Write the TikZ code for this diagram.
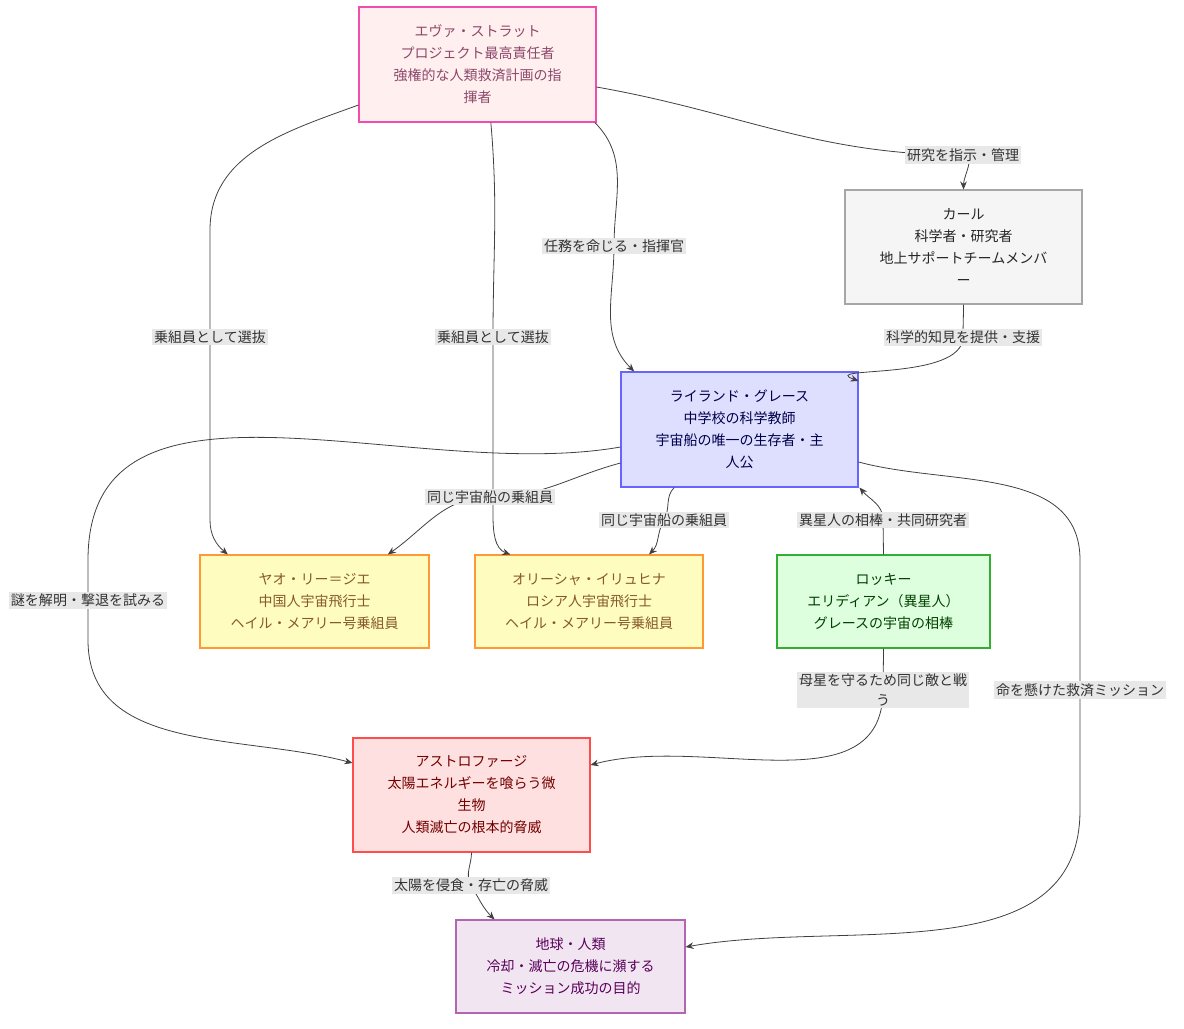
\documentclass[tikz,border=0pt]{standalone}
\usepackage{fontspec}
\setmainfont{Noto Sans CJK JP}
\usetikzlibrary{arrows.meta}
\definecolor{lblbg}{HTML}{E8E8E8}
\begin{document}
\begin{tikzpicture}[x=0.75pt,y=-0.75pt,
  box/.style={draw,line width=0.8pt,align=center,font=\fontsize{10.5}{16.5}\selectfont,inner sep=0pt},
  lbl/.style={fill=lblbg,font=\fontsize{10.5}{15}\selectfont,inner sep=1.5pt,align=center,text=black!80},
  e/.style={draw=black!75,line width=0.6pt,-{Stealth[length=6pt,width=5pt]}}]
\useasboundingbox (0,0) rectangle (1184,1028);
\node[box,fill=pink!25,draw=magenta!70,text=magenta!50!black,minimum width=237*0.75pt,minimum height=115*0.75pt] (eva) at (477.5,64.5) {エヴァ・ストラット\\プロジェクト最高責任者\\強権的な人類救済計画の指\\揮者};
\node[box,fill=gray!8,draw=gray!70,text=black!85,minimum width=237*0.75pt,minimum height=114*0.75pt] (karl) at (963.5,247) {カール\\科学者・研究者\\地上サポートチームメンバ\\ー};
\node[box,fill=blue!13,draw=blue!60,text=blue!30!black,minimum width=237*0.75pt,minimum height=115*0.75pt] (ry) at (739.5,429.5) {ライランド・グレース\\中学校の科学教師\\宇宙船の唯一の生存者・主\\人公};
\node[box,fill=yellow!25,draw=orange!80,text=brown!70!black,minimum width=229*0.75pt,minimum height=93*0.75pt] (yao) at (314.5,601.5) {ヤオ・リー＝ジエ\\中国人宇宙飛行士\\ヘイル・メアリー号乗組員};
\node[box,fill=yellow!25,draw=orange!80,text=brown!70!black,minimum width=228*0.75pt,minimum height=93*0.75pt] (ol) at (589,601.5) {オリーシャ・イリュヒナ\\ロシア人宇宙飛行士\\ヘイル・メアリー号乗組員};
\node[box,fill=green!13,draw=green!60!black!80,text=green!25!black,minimum width=213*0.75pt,minimum height=93*0.75pt] (rk) at (883.5,601.5) {ロッキー\\エリディアン（異星人）\\グレースの宇宙の相棒};
\node[box,fill=red!12,draw=red!70,text=red!45!black,minimum width=237*0.75pt,minimum height=114*0.75pt] (as) at (471.5,795) {アストロファージ\\太陽エネルギーを喰らう微\\生物\\人類滅亡の根本的脅威};
\node[box,fill=violet!10,draw=violet!60,text=violet!70!black,minimum width=229*0.75pt,minimum height=93*0.75pt] (ea) at (570.5,966.5) {地球・人類\\冷却・滅亡の危機に瀕する\\ミッション成功の目的};
\coordinate (c1) at (963,155);
\coordinate (c2) at (614,246);
\coordinate (c3) at (210,337);
\coordinate (c4) at (493,337);
\coordinate (c5) at (963,337);
\coordinate (c6) at (490,497);
\coordinate (c7) at (664,520);
\coordinate (c8) at (883,520);
\coordinate (c9) at (88,600);
\coordinate (c10) at (1080,690);
\coordinate (c11) at (883,690);
\coordinate (c12) at (471,885);
\draw[e] (eva.east|-0,87) to[out=-10,in=180] (c1) to[out=0,in=90] (karl.north);
\draw[e] ([xshift=88]eva.south) to[out=-45,in=90] (c2) to[out=-90,in=135] ([xshift=-79]ry.north);
\draw[e] (eva.west|-0,105) to[out=-160,in=90] (210,230) -- (c3) -- (210,520) to[out=-90,in=140] ([xshift=-65]yao.north);
\draw[e] ([xshift=10]eva.south) to[out=-85,in=90] (c4) -- (493,515) to[out=-90,in=160] ([xshift=-59]ol.north);
\draw[e] (karl.south) to[out=-90,in=90] (c5) to[out=-90,in=160] (ry.east|-0,381);
\draw[e] (ry.west|-0,463) to[out=-165,in=0] (c6) to[out=180,in=35] ([xshift=55]yao.north);
\draw[e] ([xshift=-49]ry.south) to[out=-135,in=60] (c7) to[out=-120,in=45] ([xshift=45]ol.north);
\draw[e,{Stealth[length=6pt,width=5pt]}-] ([xshift=90]ry.south) to[out=-50,in=90] (c8) -- (rk.north);
\draw[e] (ry.west|-0,447) to[out=-170,in=90] (88,560) -- (c9) -- (88,640) to[out=-90,in=165] (as.west|-0,763);
\draw[e] (ry.east|-0,462) to[out=-15,in=90] (1080,560) -- (c10) -- (1080,810) to[out=-90,in=10] (ea.east|-0,947);
\draw[e] (rk.south) to[out=-90,in=90] (c11) to[out=-90,in=15] (as.east|-0,765);
\draw[e] (as.south) to[out=-90,in=120] (c12) to[out=-60,in=135] ([xshift=-57]ea.north);
\node[lbl] at (c1) {研究を指示・管理};
\node[lbl] at (c2) {任務を命じる・指揮官};
\node[lbl] at (c3) {乗組員として選抜};
\node[lbl] at (c4) {乗組員として選抜};
\node[lbl] at (c5) {科学的知見を提供・支援};
\node[lbl] at (c6) {同じ宇宙船の乗組員};
\node[lbl] at (c7) {同じ宇宙船の乗組員};
\node[lbl] at (c8) {異星人の相棒・共同研究者};
\node[lbl] at (c9) {謎を解明・撃退を試みる};
\node[lbl] at (c10) {命を懸けた救済ミッション};
\node[lbl] at (c11) {母星を守るため同じ敵と戦\\う};
\node[lbl] at (c12) {太陽を侵食・存亡の脅威};
\end{tikzpicture}
\end{document}
